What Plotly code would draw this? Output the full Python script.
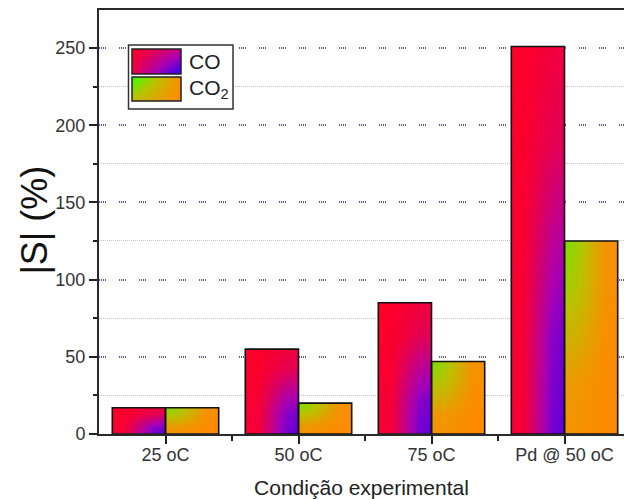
import plotly.graph_objects as go

# Experimental conditions and measured sensitivity |S| (%)
conditions = ["25 oC", "50 oC", "75 oC", "Pd @ 50 oC"]
s_co = [17, 55, 85, 251]
s_co2 = [17, 20, 47, 125]
series_names = ["CO", "CO<sub>2</sub>"]
y_major = [0, 50, 100, 150, 200, 250]
y_minor = [25, 75, 125, 175, 225]

# Bar geometry (category units) and gradient textures
BAR_W = 0.4
CO_SCALE = [[0, "#ff0028"], [0.5, "#a800b4"], [1, "#2000ff"]]
CO2_SCALE = [[0, "#33ff00"], [0.5, "#b8c400"], [1, "#ff8a00"]]
# 4x4 shading grids sampled at 0, 1/4, 3/4, 1 of each bar's width/height;
# rows run bottom -> top, columns left -> right
CO_SHADE = [
    [0, 0.08, 0.75, 1.0],
    [0, 0.06, 0.60, 0.8],
    [0, 0.02, 0.15, 0.2],
    [0, 0.00, 0.00, 0.0],
]
CO2_SHADE = [
    [0.95, 0.965, 0.995, 1.0],
    [0.85, 0.895, 0.985, 1.0],
    [0.30, 0.51, 0.93, 1.0],
    [0.00, 0.30, 0.90, 1.0],
]

FONT = "Arial, Liberation Sans, sans-serif"
INK = "#222222"

fig = go.Figure()


def edges(lo, hi):
    # cell edges whose centres fall at 0, 1/4, 3/4 and 1 of the span
    e = (hi - lo) * 0.002
    return [lo, lo + e, (lo + hi) / 2, hi - e, hi]


def gradient_fill(xl, xr, top, shade, scale):
    fig.add_trace(go.Heatmap(
        x=edges(xl, xr), y=edges(0, top),
        z=shade, zmin=0, zmax=1, zsmooth="best",
        colorscale=scale, showscale=False, hoverinfo="skip",
        xaxis="x", yaxis="y",
    ))


for i, v in enumerate(s_co):
    gradient_fill(i - BAR_W, i, v, CO_SHADE, CO_SCALE)
for i, v in enumerate(s_co2):
    gradient_fill(i, i + BAR_W, v, CO2_SHADE, CO2_SCALE)

xs = list(range(len(conditions)))
for vals, name, off in [(s_co, series_names[0], -BAR_W), (s_co2, series_names[1], 0)]:
    fig.add_trace(go.Bar(
        x=xs, y=vals, name=name, width=BAR_W, offset=off,
        marker=dict(color="rgba(0,0,0,0)", line=dict(color="#111111", width=1.6)),
        showlegend=False, xaxis="x", yaxis="y",
    ))

# Legend panel: white box, two gradient swatches
fig.add_trace(go.Scatter(
    x=[0, 1, 1, 0, 0], y=[0, 0, 1, 1, 0], mode="lines", fill="toself",
    fillcolor="white", line=dict(width=0), hoverinfo="skip", showlegend=False,
    xaxis="x2", yaxis="y2",
))
fig.add_trace(go.Heatmap(
    x=[0, 1], y=[0, 1], z=[[0.1, 1], [0, 0.35]], zmin=0, zmax=1, zsmooth="best",
    colorscale=CO_SCALE, showscale=False, hoverinfo="skip", xaxis="x3", yaxis="y3",
))
fig.add_trace(go.Heatmap(
    x=[0, 1], y=[0, 1], z=[[0.6, 1], [0, 1]], zmin=0, zmax=1, zsmooth="best",
    colorscale=CO2_SCALE, showscale=False, hoverinfo="skip", xaxis="x4", yaxis="y4",
))

W, H = 624, 499
ML, MR, MT, MB = 99, 0, 10, 65
PW, PH = W - ML - MR, H - MT - MB


def px(x):
    return (x - ML) / PW


def py(y):
    return (H - MB - y) / PH


box = dict(x0=px(128.5), x1=px(233), y0=py(109), y1=py(45))
sw_x = [px(132), px(181)]
sw_co = [py(74), py(49)]
sw_co2 = [py(101), py(77)]

hidden = dict(visible=False, showticklabels=False, range=[0, 1], fixedrange=True)
fig.update_layout(
    xaxis2=dict(hidden, domain=[box["x0"], box["x1"]], anchor="y2"),
    yaxis2=dict(hidden, domain=[box["y0"], box["y1"]], anchor="x2"),
    xaxis3=dict(hidden, domain=sw_x, anchor="y3"),
    yaxis3=dict(hidden, domain=sw_co, anchor="x3"),
    xaxis4=dict(hidden, domain=sw_x, anchor="y4"),
    yaxis4=dict(hidden, domain=sw_co2, anchor="x4"),
)

shapes = [dict(type="rect", xref="paper", yref="paper", layer="above",
               line=dict(color="#333333", width=1.5), **box)]
for yd in (sw_co, sw_co2):
    shapes.append(dict(type="rect", xref="paper", yref="paper", layer="above",
                       x0=sw_x[0], x1=sw_x[1], y0=yd[0], y1=yd[1],
                       line=dict(color="#222222", width=1.5)))

annotations = [
    dict(text=series_names[0], x=px(186.5), y=(sw_co[0] + sw_co[1]) / 2,
         xref="paper", yref="paper", xanchor="left", yanchor="middle",
         showarrow=False, font=dict(family=FONT, size=21, color=INK)),
    dict(text=series_names[1], x=px(186.5), y=(sw_co2[0] + sw_co2[1]) / 2,
         xref="paper", yref="paper", xanchor="left", yanchor="middle",
         showarrow=False, font=dict(family=FONT, size=21, color=INK)),
    # y-axis title
    dict(text="|S| (%)", x=px(34.5), y=py(220), textangle=-90,
         xref="paper", yref="paper", xanchor="center", yanchor="middle",
         showarrow=False, font=dict(family=FONT, size=36, color="#111111")),
]

x_end = -0.5 + PW / 133.0

fig.update_layout(
    width=W, height=H,
    margin=dict(l=ML, r=MR, t=MT, b=MB),
    paper_bgcolor="white", plot_bgcolor="white",
    barmode="overlay", showlegend=False,
    font=dict(family=FONT, color="#333333"),
    shapes=shapes, annotations=annotations,
    xaxis=dict(
        range=[-0.5, x_end], tickmode="array", tickvals=xs, ticktext=conditions,
        ticks="outside", ticklen=8, tickwidth=1.5, tickcolor=INK,
        ticklabelstandoff=-5,
        showline=True, linewidth=2, linecolor="#2a2a2a", mirror=True,
        showgrid=False, zeroline=False,
        tickfont=dict(family=FONT, size=18, color="#333333"),
        minor=dict(tickmode="array", tickvals=[0.5, 1.5, 2.5], ticks="outside",
                   ticklen=5, tickwidth=1.5, tickcolor=INK, showgrid=False),
        title=dict(text="Condição experimental", standoff=18,
                   font=dict(family=FONT, size=21, color="#222222")),
        fixedrange=True,
    ),
    yaxis=dict(
        range=[0, 274.6], tickmode="array", tickvals=y_major,
        ticks="outside", ticklen=8, tickwidth=1.5, tickcolor=INK,
        showline=True, linewidth=2, linecolor="#2a2a2a", mirror=False,
        showgrid=True, gridcolor="#5050ff", gridwidth=2,
        griddash="1px,1px,1px,1px,1px,1px,1px,13px", zeroline=False,
        tickfont=dict(family=FONT, size=18, color="#333333"),
        minor=dict(tickmode="array", tickvals=y_minor, ticks="outside", ticklen=4,
                   tickwidth=1.5, tickcolor=INK, showgrid=True, gridcolor="#c4c4c4",
                   griddash="1px,1px", gridwidth=1),
        fixedrange=True,
    ),
)

fig.write_html("out.html")
